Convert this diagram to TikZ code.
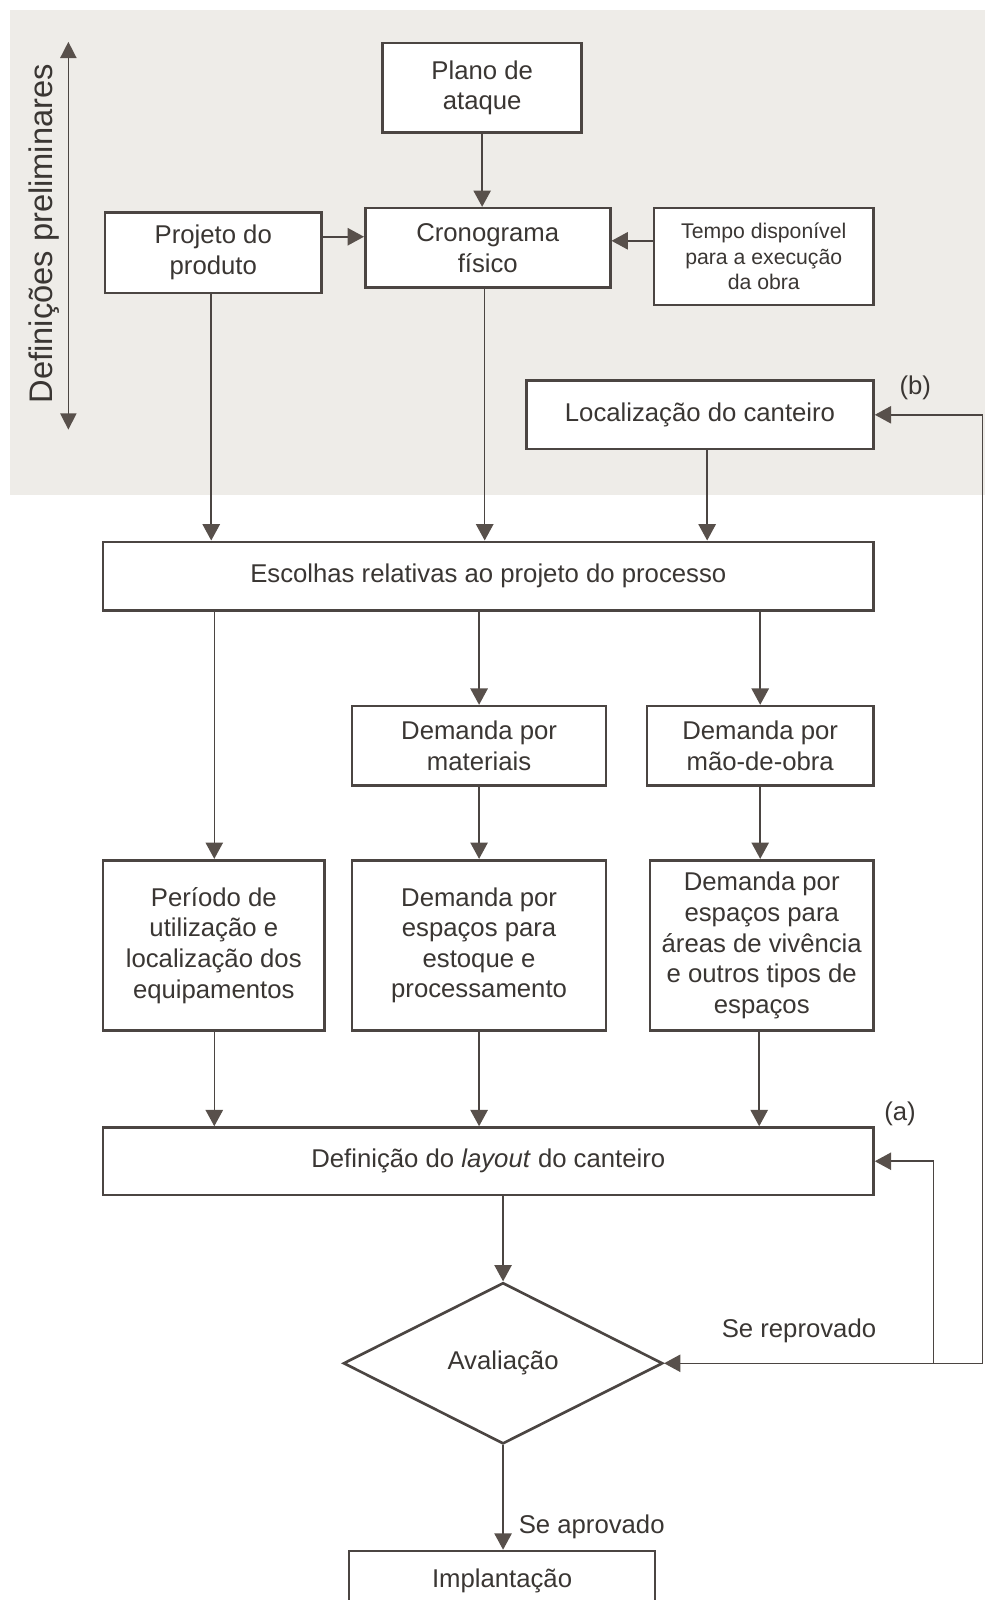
\documentclass[tikz,border=0pt]{standalone}
\usepackage{fontspec}
\setmainfont{Liberation Sans}
\usetikzlibrary{arrows.meta,shapes.geometric}
\definecolor{ln}{RGB}{75,69,66}
\definecolor{ah}{RGB}{88,80,75}
\definecolor{tx}{RGB}{58,54,51}
\definecolor{bgg}{RGB}{238,236,232}
\tikzset{
  box/.style={draw=ln, line width=1.3pt, fill=white, align=center, text=tx, inner sep=2pt,
    font=\fontsize{12.6}{15}\selectfont},
  smallbox/.style={box, font=\fontsize{10.4}{12.5}\selectfont},
  arr/.style={draw=ln, line width=0.75pt, -{Triangle[length=8pt,width=8.5pt,color=ah]}},
  arrboth/.style={draw=ln, line width=0.75pt, {Triangle[length=8pt,width=8pt,color=ah]}-{Triangle[length=8pt,width=8pt,color=ah]}},
  lbl/.style={text=tx, font=\fontsize{12.6}{15}\selectfont, inner sep=1pt},
}
\begin{document}
\begin{tikzpicture}[x=0.5pt,y=-0.5pt]
\useasboundingbox (0,0) rectangle (965,1568);
\fill[bgg] (10,10) rectangle (965,485);

% top area
\node[box, minimum width=97.5pt, minimum height=44pt] (plano) at (472.5,86) {Plano de\\ataque};
\node[box, minimum width=106pt, minimum height=39.5pt] (projeto) at (209,247.5) {Projeto do\\produto};
\node[box, minimum width=120pt, minimum height=39pt] (crono) at (478,243) {Cronograma\\físico};
\node[smallbox, minimum width=107.5pt, minimum height=47.5pt] (tempo) at (748.5,251.5) {Tempo disponível\\para a execução\\da obra};
\node[box, minimum width=170pt, minimum height=33.5pt] (local) at (686,406.5) {Localização do canteiro};

% left double arrow and rotated label
\coordinate (dtop) at (67,41);
\coordinate (dbot) at (67,421);
\draw[arrboth] (dtop) -- (dbot);
\node[text=tx, rotate=90, font=\fontsize{16}{18}\selectfont, inner sep=0pt] (defs) at (43,229) {Definições preliminares};

% middle
\node[box, minimum width=377.5pt, minimum height=33.5pt] (escolhas) at (478.5,564.5) {Escolhas relativas ao projeto do processo};
\node[box, minimum width=124.5pt, minimum height=39pt] (dmat) at (469.5,731) {Demanda por\\materiais};
\node[box, minimum width=111pt, minimum height=39pt] (dmao) at (745,731) {Demanda por\\mão-de-obra};
\node[box, minimum width=108.5pt, minimum height=83.5pt] (periodo) at (209.5,926.5) {Período de\\utilização e\\localização dos\\equipamentos};
\node[box, minimum width=124.5pt, minimum height=83.5pt] (desp) at (469.5,926.5) {Demanda por\\espaços para\\estoque e\\processamento};
\node[box, minimum width=109.5pt, minimum height=83.5pt] (dareas) at (746.5,926.5) {Demanda por\\espaços para\\áreas de vivência\\e outros tipos de\\espaços};
\node[box, minimum width=377.5pt, minimum height=33pt] (layout) at (478.5,1138) {Definição do \textit{layout} do canteiro};

% decision and end
\node[draw=ln, line width=1.3pt, diamond, fill=white, minimum width=156.5pt, minimum height=79pt, inner sep=0pt, text=tx, font=\fontsize{12.6}{15}\selectfont] (aval) at (493,1336) {Avaliação};
\node[box, minimum width=150pt, minimum height=30pt] (implant) at (492,1550) {\raisebox{3.5pt}{Implantação}};

% labels
\node[lbl] (lb) at (897,380) {(b)};
\node[lbl] (la) at (882,1092) {(a)};
\node[lbl] (lrep) at (783,1304) {Se reprovado};
\node[lbl, anchor=west] (lapr) at (506,1496) {Se aprovado};

% connectors top
\draw[arr] (plano.south) -- (plano.south |- crono.north);
\draw[arr] (projeto.east |- 0,232) -- (crono.west |- 0,232);
\draw[arr] (tempo.west |- 0,236) -- (crono.east |- 0,236);
\draw[arr] (projeto.south -| 207,0) -- (escolhas.north -| 207,0);
\draw[arr] (crono.south -| 475,0) -- (escolhas.north -| 475,0);
\draw[arr] (local.south -| 693,0) -- (escolhas.north -| 693,0);

% connectors middle
\draw[arr] (escolhas.south -| 210,0) -- (periodo.north -| 210,0);
\draw[arr] (escolhas.south -| dmat) -- (dmat.north);
\draw[arr] (escolhas.south -| dmao) -- (dmao.north);
\draw[arr] (dmat.south) -- (desp.north -| dmat);
\draw[arr] (dmao.south) -- (dareas.north -| dmao);
\draw[arr] (periodo.south -| 210,0) -- (layout.north -| 210,0);
\draw[arr] (desp.south) -- (layout.north -| desp);
\draw[arr] (dareas.south -| 744,0) -- (layout.north -| 744,0);
\draw[arr] (layout.south -| aval) -- (aval.north);
\draw[arr] (aval.south) -- (implant.north -| aval);

% feedback loops
\coordinate (fr) at (963,1336);
\coordinate (fb) at (915,1336);
\draw[arr] (fr) -- (aval.east);
\draw[arr] (fb) |- (layout.east);
\draw[arr] (fr) |- (local.east);
\end{tikzpicture}
\end{document}
